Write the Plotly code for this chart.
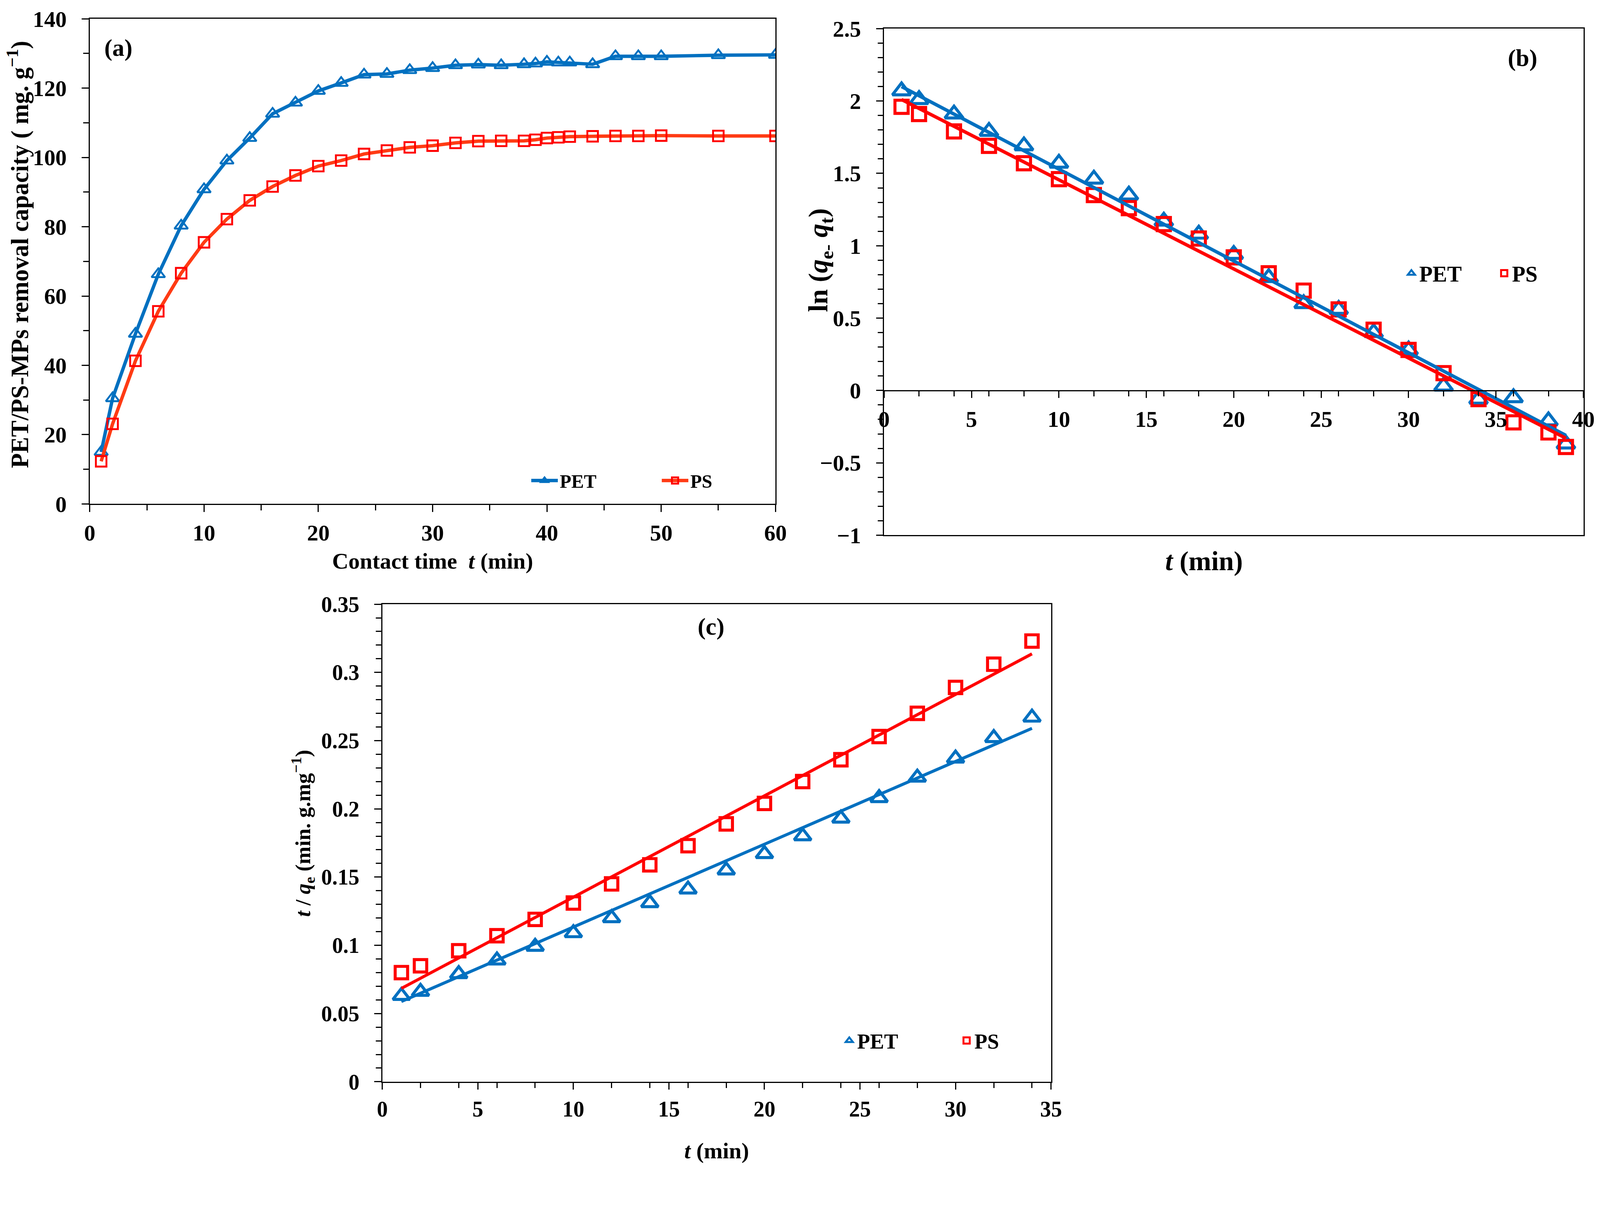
import plotly.graph_objects as go

# ---------------- data ----------------
# Panel (a): removal capacity vs contact time
a_time = [1, 2, 4, 6, 8, 10, 12, 14, 16, 18, 20, 22, 24, 26, 28, 30, 32, 34, 36, 38,
          39, 40, 41, 42, 44, 46, 48, 50, 55, 60]
a_pet = [15.0, 30.5, 49.1, 66.3, 80.3, 90.8, 99.1, 105.6, 112.6, 115.8, 119.2, 121.5,
         123.9, 124.1, 125.2, 125.8, 126.6, 126.8, 126.6, 126.9, 127.1, 127.6, 127.4,
         127.4, 126.9, 129.2, 129.2, 129.2, 129.5, 129.6]
a_ps = [12.3, 23.1, 41.3, 55.6, 66.6, 75.5, 82.2, 87.6, 91.6, 94.8, 97.5, 99.1, 101.0,
        102.0, 102.9, 103.4, 104.2, 104.7, 104.8, 104.8, 105.1, 105.6, 105.8, 106.0,
        106.1, 106.2, 106.2, 106.3, 106.2, 106.2]
a_xticks = [0, 10, 20, 30, 40, 50, 60]
a_xlabels = ["0", "10", "20", "30", "40", "50", "60"]
a_yticks = [0, 20, 40, 60, 80, 100, 120, 140]
a_ylabels = ["0", "20", "40", "60", "80", "100", "120", "140"]

# Panel (b): pseudo-first-order, ln(qe - qt) vs t
b_time = [1, 2, 4, 6, 8, 10, 12, 14, 16, 18, 20, 22, 24, 26, 28, 30, 32, 34, 36, 38, 39]
b_pet = [2.07, 2.01, 1.91, 1.79, 1.69, 1.57, 1.46, 1.35, 1.17, 1.08, 0.94, 0.78, 0.60,
         0.56, 0.40, 0.28, 0.03, -0.06, -0.05, -0.21, -0.37]
b_ps = [1.96, 1.91, 1.79, 1.69, 1.57, 1.46, 1.35, 1.26, 1.15, 1.05, 0.92, 0.81, 0.69,
        0.56, 0.42, 0.28, 0.12, -0.06, -0.22, -0.29, -0.39]
b_fit_time = [1, 39]
b_fit_pet = [2.10, -0.31]
b_fit_ps = [2.01, -0.33]
b_xticks = [0, 5, 10, 15, 20, 25, 30, 35, 40]
b_xlabels = ["0", "5", "10", "15", "20", "25", "30", "35", "40"]
b_yticks = [-1, -0.5, 0, 0.5, 1, 1.5, 2, 2.5]
b_ylabels = ["\u22121", "\u22120.5", "0", "0.5", "1", "1.5", "2", "2.5"]

# Panel (c): pseudo-second-order, t/qt vs t
c_time = [1, 2, 4, 6, 8, 10, 12, 14, 16, 18, 20, 22, 24, 26, 28, 30, 32, 34]
c_pet = [0.063, 0.066, 0.079, 0.089, 0.099, 0.109, 0.120, 0.131, 0.141, 0.155, 0.167,
         0.180, 0.193, 0.208, 0.223, 0.237, 0.252, 0.267]
c_ps = [0.080, 0.085, 0.096, 0.107, 0.119, 0.131, 0.145, 0.159, 0.173, 0.189, 0.204,
        0.220, 0.236, 0.253, 0.270, 0.289, 0.306, 0.323]
c_fit_time = [1, 34]
c_fit_pet = [0.0588, 0.259]
c_fit_ps = [0.0684, 0.3136]
c_xticks = [0, 5, 10, 15, 20, 25, 30, 35]
c_xlabels = ["0", "5", "10", "15", "20", "25", "30", "35"]
c_yticks = [0, 0.05, 0.1, 0.15, 0.2, 0.25, 0.3, 0.35]
c_ylabels = ["0", "0.05", "0.1", "0.15", "0.2", "0.25", "0.3", "0.35"]

# ---------------- styling ----------------
FONT = "Liberation Serif"
BLUE = "#0070C0"
RED = "#FF0000"
ORANGE_RED = "#FF3B14"

# the page is photographed from a 4096-px-wide CSS viewport scaled up to 4244 px
S = 4096 / 4244
MARGIN = 8                      # default body margin of the html page
FW = round(4244 * S) - MARGIN   # figure width in css px
FH = round(3106 * S) - MARGIN   # figure height in css px


def z(v):
    """size in picture pixels -> css pixels"""
    return v * S


def zi(v):
    return int(round(v * S))


def px_x(p):
    return (p * S - MARGIN) / FW


def px_y(p):
    return 1 - (p * S - MARGIN) / FH


def f(size):
    return dict(family=FONT, size=z(size), color="black", weight="bold")


fig = go.Figure()

# ---- (a)
fig.add_trace(go.Scatter(
    x=a_time, y=a_pet, mode="lines+markers", name="PET", xaxis="x", yaxis="y",
    legend="legend",
    line=dict(color=BLUE, width=z(9)),
    marker=dict(symbol="triangle-up-open", size=z(31), color=BLUE,
                line=dict(width=z(5), color=BLUE))))
fig.add_trace(go.Scatter(
    x=a_time, y=a_ps, mode="lines+markers", name="PS", xaxis="x", yaxis="y",
    legend="legend",
    line=dict(color=ORANGE_RED, width=z(9)),
    marker=dict(symbol="square-open", size=z(28), color=RED,
                line=dict(width=z(5), color=RED))))

# ---- (b)
fig.add_trace(go.Scatter(
    x=b_time, y=b_pet, mode="markers", name="PET", xaxis="x2", yaxis="y2",
    legend="legend2",
    marker=dict(symbol="triangle-up-open", size=z(42), color=BLUE,
                line=dict(width=z(8), color=BLUE))))
fig.add_trace(go.Scatter(
    x=b_time, y=b_ps, mode="markers", name="PS", xaxis="x2", yaxis="y2",
    legend="legend2",
    marker=dict(symbol="square-open", size=z(35), color=RED,
                line=dict(width=z(8), color=RED))))
fig.add_trace(go.Scatter(
    x=b_fit_time, y=b_fit_pet, mode="lines", showlegend=False, xaxis="x4", yaxis="y2",
    line=dict(color=BLUE, width=z(9))))
fig.add_trace(go.Scatter(
    x=b_fit_time, y=b_fit_ps, mode="lines", showlegend=False, xaxis="x4", yaxis="y2",
    line=dict(color=RED, width=z(9))))

# ---- (c)
fig.add_trace(go.Scatter(
    x=c_time, y=c_pet, mode="markers", name="PET", xaxis="x3", yaxis="y3",
    legend="legend3",
    marker=dict(symbol="triangle-up-open", size=z(39), color=BLUE,
                line=dict(width=z(8), color=BLUE))))
fig.add_trace(go.Scatter(
    x=c_time, y=c_ps, mode="markers", name="PS", xaxis="x3", yaxis="y3",
    legend="legend3",
    marker=dict(symbol="square-open", size=z(33), color=RED,
                line=dict(width=z(8), color=RED))))
fig.add_trace(go.Scatter(
    x=c_fit_time, y=c_fit_pet, mode="lines", showlegend=False, xaxis="x3", yaxis="y3",
    line=dict(color=BLUE, width=z(8))))
fig.add_trace(go.Scatter(
    x=c_fit_time, y=c_fit_ps, mode="lines", showlegend=False, xaxis="x3", yaxis="y3",
    line=dict(color=RED, width=z(8))))


def axis(**kw):
    base = dict(showline=True, linecolor="black", linewidth=z(3), mirror=True,
                ticks="outside", ticklen=z(18), tickwidth=z(3), tickcolor="black",
                showgrid=False, zeroline=False, tickmode="array", automargin=False,
                ticklabelstandoff=zi(28))
    base.update(kw)
    return base


def minor(d):
    return dict(dtick=d, tick0=0, ticks="outside", ticklen=z(14), tickwidth=z(3),
                tickcolor="black", showgrid=False)


layout_axes = dict(
    xaxis=axis(domain=[px_x(238), px_x(2057)], anchor="y", range=[0, 60],
               tickvals=a_xticks, ticktext=a_xlabels, tickfont=f(60),
               minor=minor(5), ticklabelstandoff=zi(4),
               title=dict(text="Contact time  <i>t</i> (min)", font=f(60), standoff=z(20))),
    yaxis=axis(domain=[px_y(1337), px_y(50)], anchor="x", range=[0, 140],
               tickvals=a_yticks, ticktext=a_ylabels, tickfont=f(60),
               minor=minor(10)),
    xaxis2=axis(domain=[px_x(2345), px_x(4200)], anchor="y2", range=[0, 40],
                ticks="", showticklabels=False, tickvals=[]),
    xaxis4=axis(overlaying="x2", anchor="free", position=px_y(1036), range=[0, 40],
                mirror=False, tickvals=b_xticks, ticktext=b_xlabels, tickfont=f(60),
                minor=minor(2), ticklabelstandoff=zi(4)),
    yaxis2=axis(domain=[px_y(1420), px_y(76)], anchor="x2", range=[-1, 2.5],
                tickvals=b_yticks, ticktext=b_ylabels, tickfont=f(60),
                minor=minor(0.1)),
    xaxis3=axis(domain=[px_x(1014), px_x(2788)], anchor="y3", range=[0, 35],
                tickvals=c_xticks, ticktext=c_xlabels, tickfont=f(58),
                minor=minor(2), ticklabelstandoff=zi(2),
                title=dict(text="<i>t</i> (min)", font=f(60), standoff=z(58))),
    yaxis3=axis(domain=[px_y(2870), px_y(1603)], anchor="x3", range=[0, 0.35],
                tickvals=c_yticks, ticktext=c_ylabels, tickfont=f(58),
                minor=minor(0.01)),
)


def legend(x, y, itemwidth, advance, size):
    # advance = distance between the two legend entries (picture px)
    return dict(x=x, y=y, xanchor="left", yanchor="middle", orientation="h",
                font=f(size), bgcolor="rgba(0,0,0,0)", borderwidth=0,
                itemwidth=itemwidth, entrywidth=z(advance) - (itemwidth + 10),
                entrywidthmode="pixels", itemsizing="trace", traceorder="normal")


def label(text, x, y, size, angle=0):
    return dict(text=text, x=px_x(x), y=px_y(y), xref="paper", yref="paper",
                showarrow=False, font=f(size), xanchor="center", yanchor="middle",
                textangle=angle)


fig.update_layout(
    template="none",
    width=FW, height=FH,
    margin=dict(l=0, r=0, t=0, b=0, autoexpand=False),
    paper_bgcolor="white", plot_bgcolor="white",
    font=f(60),
    showlegend=True,
    legend=legend(px_x(1404), px_y(1275), 68, 341, 50),
    legend2=legend(px_x(3723), px_y(725), 30, 241, 58),
    legend3=legend(px_x(2232), px_y(2761), 30, 306, 56),
    annotations=[
        label("(a)", 314, 127, 64),
        label("(b)", 4038, 154, 64),
        label("(c)", 1886, 1662, 64),
        # vertical axis titles (placed as in the reference, off-centre)
        label("PET/PS-MPs removal capacity ( mg. g<sup>\u22121</sup>)", 48, 675, 65, -90),
        label("ln (<i>q</i><sub>e-</sub> <i>q</i><sub>t</sub>)", 2176, 690, 73, -90),
        label("<i>t</i> / <i>q</i><sub>e</sub> (min. g.mg<sup>\u22121</sup>)", 804, 2211, 57, -90),
        # horizontal axis title of panel (b), whose x axis crosses at y = 0
        label("<i>t</i> (min)", 3194, 1488, 72),
    ],
    **layout_axes,
)

fig.write_html("out.html")
